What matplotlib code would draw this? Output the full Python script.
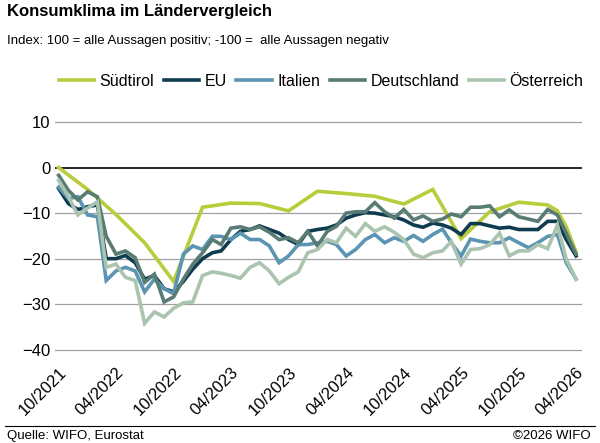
import numpy as np
import pandas as pd
import matplotlib
matplotlib.use("Agg")
import matplotlib.pyplot as plt

plt.rcParams["font.family"] = ["Liberation Sans", "DejaVu Sans"]

# ── Data ───────────────────────────────────────────────────────────────────────
months = pd.date_range("2021-10-01", "2026-04-01", freq="MS")

eu = [-4.6, -7.9, -9.2, -8.6, -8.2, -20, -20, -19.3, -20.9, -24.5, -23.7, -26.6, -27.3, -25,
      -22.3, -20, -18.7, -18.3, -15.8, -14, -13.6, -12.8, -13.6, -14.4, -15.8, -16.9,
      -14, -13.6, -13.3, -12.6, -11.1, -10.4, -9.9, -10, -10.4, -10.8, -11.5, -12.6, -13.1,
      -12.2, -12.6, -13.3, -14.7, -12.3, -12.3, -12.8, -13.3, -13.1, -13.6, -13.6, -13.6,
      -11.8, -11.8, -15.8, -19.4]
italien = [-4.3, -6.8, -6.4, -10.4, -10.8, -24.8, -22.7, -21.9, -22.7, -27.3, -24.5, -26.6,
           -27.7, -19, -17.2, -18, -15.1, -15.1, -15.8, -14.4, -15.8, -15.8, -17.2, -20.9,
           -19.4, -16.9, -16.9, -16.5, -16.2, -16.9, -19.4, -18, -15.8, -14.7, -16.5, -15.4,
           -16.2, -14.9, -16.2, -14.7, -13.5, -16.5, -19.4, -15.7, -16.2, -16.5, -16.5, -15.4,
           -16.5, -17.6, -16.5, -15.1, -14.7, -20.9, -24.5]
deutschland = [-1.7, -5, -7.1, -5.3, -6.4, -15.1, -19, -18.3, -19.8, -25.2, -23.4, -29.5,
               -28.4, -24.5, -21.2, -18.7, -15.8, -16.9, -13.3, -13, -13.6, -13, -14.2, -15.8,
               -15.4, -16.5, -14, -17.2, -14, -12.9, -10, -9.7, -9.7, -7.7, -9.7, -11.1, -9.2,
               -11.5, -10.6, -11.8, -11.3, -10.2, -10.8, -8.7, -8.7, -8.4, -10.8, -9.3, -10.8,
               -11.3, -11.8, -9.2, -10.4, -14.4, -19]
oesterreich = [-2.8, -6.4, -10.4, -8.9, -7.5, -21.9, -21.2, -24.1, -24.8, -34.2, -31.7, -32.8,
               -30.9, -29.7, -29.5, -23.7, -22.9, -23.2, -23.7, -24.3, -21.9, -20.9, -22.7,
               -25.5, -24.1, -22.9, -18.7, -18, -15.8, -16.5, -13.3, -15.1, -12.3, -14, -13,
               -14.2, -15.8, -19, -19.8, -18.7, -18.3, -16.2, -21.2, -18, -17.8, -16.9, -14.4,
               -19.4, -18.3, -18.3, -16.9, -17.8, -12.6, -20.1, -24.5]

# Südtirol is surveyed quarterly (monthly at the end)
st_dates = pd.to_datetime(["2021-10-01", "2022-01-01", "2022-04-01", "2022-07-01", "2022-10-01",
                           "2023-01-01", "2023-04-01", "2023-07-01", "2023-10-01", "2024-01-01",
                           "2024-04-01", "2024-07-01", "2024-10-01", "2025-01-01", "2025-04-01",
                           "2025-07-01", "2025-10-01", "2026-01-01", "2026-02-01", "2026-03-01",
                           "2026-04-01"])
suedtirol = [0, -4.8, -10.3, -16.5, -25, -8.7, -7.8, -7.9, -9.5, -5.2, -5.7, -6.3, -8, -4.8,
             -15.6, -9.7, -7.6, -8.2, -9.5, -13, -18.5]

series = [
    ("Südtirol", st_dates, suedtirol, "#b8cc3c"),
    ("EU", months, eu, "#0e3b50"),
    ("Italien", months, italien, "#5b95b3"),
    ("Deutschland", months, deutschland, "#587c74"),
    ("Österreich", months, oesterreich, "#abc4af"),
]

tick_dates = pd.date_range("2021-10-01", "2026-04-01", freq="6MS")
tick_labels = [d.strftime("%m/%Y") for d in tick_dates]

# ── Plot ───────────────────────────────────────────────────────────────────────
fig = plt.figure(figsize=(6, 4.43), dpi=100)
ax = fig.add_axes([0.092, 0.19, 0.878, 0.555])

for y in [10, -10, -20, -30, -40]:
    ax.axhline(y, color="#a0a0a0", lw=0.9, zorder=0)
ax.axhline(0, color="black", lw=1.2, zorder=0)

for name, x, vals, col in series:
    ax.plot(x, vals, color=col, lw=2.6, label=name, solid_joinstyle="miter")

ax.set_ylim(-42, 12)
ax.set_yticks([10, 0, -10, -20, -30, -40])
ax.set_xlim(pd.Timestamp("2021-09-20"), pd.Timestamp("2026-04-20"))
ax.set_xticks(tick_dates)
ax.set_xticklabels(tick_labels, rotation=45, ha="right", rotation_mode="anchor", fontsize=12)
ax.tick_params(axis="y", labelsize=12, length=0)
ax.tick_params(axis="x", length=0, pad=4)
for s in ax.spines.values():
    s.set_visible(False)

ax.legend(loc="lower right", bbox_to_anchor=(1.03, 1.04), ncol=5, frameon=False,
          fontsize=11.5, handlelength=2.2, columnspacing=0.6, handletextpad=0.35)

fig.text(0.012, 0.965, "Konsumklima im Ländervergleich", fontsize=12, fontweight="bold")
fig.text(0.012, 0.9, "Index: 100 = alle Aussagen positiv; -100 =  alle Aussagen negativ", fontsize=9.5)
fig.add_artist(plt.Line2D([0.008, 0.992], [0.038, 0.038], color="black", lw=0.8))
fig.text(0.012, 0.008, "Quelle: WIFO, Eurostat", fontsize=9.5)
fig.text(0.985, 0.008, "©2026 WIFO", fontsize=9.5, ha="right")

fig.savefig("out.png", dpi=100)
